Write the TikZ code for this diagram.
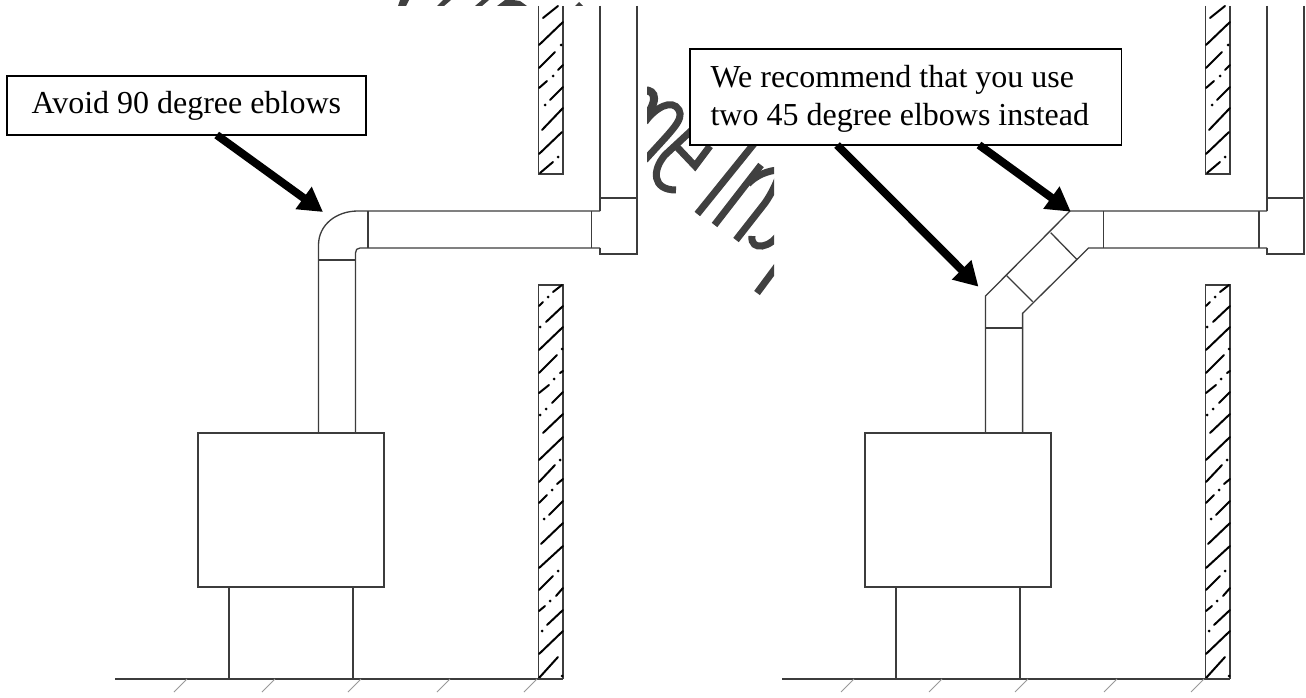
\documentclass[tikz,border=0pt]{standalone}
\usepackage{fontspec}
\setmainfont{Liberation Serif}
\usetikzlibrary{arrows.meta}
\definecolor{lineink}{HTML}{3C3C3C}
\definecolor{wmark}{HTML}{404040}
\tikzset{
  plan/.style={draw=lineink,line width=1.3pt,line join=miter},
  floortick/.style={draw=gray!80,line width=0.9pt},
  hatchline/.style={draw=black,line width=2pt,line cap=round},
  wmstroke/.style={draw=wmark,line width=7pt},
  wmpiece/.style={fill=wmark,draw=none},
  callout/.style={draw=black,line width=1.6pt,fill=white,inner sep=0pt,anchor=north west,font=\fontsize{32}{37.7}\selectfont},
  bigarrow/.style={draw=black,fill=black,line width=8pt,-{Triangle[length=24pt,width=26pt]}}
}
\newcommand{\sideplan}{%
  % walls
  \draw[plan] (538.5,6) -- (538.5,174) -- (563,174) -- (563,6);
  \draw[plan] (538.5,679) -- (538.5,285) -- (563,285) -- (563,679);
  % hatching
  \foreach \xa/\ya/\xb/\yb in {
    543/18/558/6, 539/45/563/22, 539/68/555/52, 558/70/563/65, 539/88/547/81, 550/100/563/87,
    542/130/563/108, 539/154/562/132, 540/173/553/162,
    553/292/562/285, 539/306/543/302, 546/322/563/306, 539/350/563/327, 539/373/557/355,
    560/373/563/371, 539/393/549/385, 552/403/563/392, 543/433/563/414, 539/460/563/437,
    539/482/555/465, 557/484/563/479, 539/503/547/495, 549/515/563/501, 541/544/563/523,
    539/568/563/546, 539/590/553/576, 556/596/563/588, 539/611/545/606, 547/625/563/610,
    539/654/563/631, 539/678/558/657}
    {\draw[hatchline] (\xa,\ya) -- (\xb,\yb);}
  \foreach \xa/\ya in {561/45, 553/76, 545/105, 558/157, 548/297, 540/327, 562/349, 554/379,
    546/409, 540/415, 560/460, 552/490, 544/519, 558/571, 550/601, 542/631, 562/676}
    {\fill[black] (\xa,\ya) circle (1.5pt);}
  % floor
  \draw[plan] (115,679) -- (563,679);
  \foreach \xa in {174,262,348,437,524}
    {\draw[floortick] (\xa,692) -- ++(13,-13);}
  % furnace and stand
  \draw[plan] (198,433) rectangle (384,587);
  \draw[plan] (229,587) -- (229,679);
  \draw[plan] (353,587) -- (353,679);
  % vertical duct at the wall
  \draw[plan] (600,6) -- (600,211);
  \draw[plan] (637,6) -- (637,254) -- (600,254) -- (600,248);
  \draw[plan] (600,198) -- (637,198);
}
\begin{document}
\begin{tikzpicture}[x=1pt,y=-1pt]
\useasboundingbox (0,0) rectangle (1306,698);
\fill[white] (0,0) rectangle (1306,698);
% watermark remnants along the top edge
\fill[wmpiece] (398,6) -- (406,6) -- (409,0) -- (400,0) -- cycle;
\fill[wmpiece] (437,6) -- (444,6) -- (451,0) -- (443,0) -- cycle;
\fill[wmpiece] (475,6) -- (482,6) -- (489,0) -- (482,0) -- cycle;
\fill[wmpiece] (497,6) -- (527,6) -- (520,1) -- (513,0) -- (505,0) -- cycle;
\fill[wmpiece] (575,6) -- (583,6) -- (579,2) -- cycle;
% watermark band
\begin{scope}
  \clip (647,6) rectangle (774,300);
  \draw[wmstroke,line width=8pt] (640,91) .. controls (652,88) and (662,95) .. (645,118);
  \draw[wmstroke] (645,122) .. controls (655,108) and (672,98) .. (679,110) .. controls (684,120) and (672,130) .. (645,160);
  \draw[wmstroke] (692,130) -- (665,155) .. controls (652,170) and (652,190) .. (676,190);
  \draw[wmstroke] (677,147) -- (695,166) -- (710,146);
  \draw[wmstroke] (697.3,214) -- (757,140);
  \draw[wmstroke] (714.5,225) -- (761,165);
  \draw[wmstroke] (736,240) -- (765,203) .. controls (772,193) and (778,180) .. (780,172);
  \draw[wmstroke] (748,184) .. controls (755,176) and (768,170) .. (780,170);
  \draw[wmstroke] (780,232) .. controls (772,248) and (750,252) .. (752,236);
  \draw[wmstroke] (757,293) -- (780,262);
\end{scope}
% both sides
\sideplan
\begin{scope}[shift={(667,0)}]
  \sideplan
\end{scope}
% left duct with 90 degree elbow
\draw[plan] (318.5,433) -- (318.5,245) .. controls (318.5,225) and (336,211) .. (358,211) -- (600,211);
\draw[plan] (355.5,433) -- (355.5,253) .. controls (355.5,250) and (357,248) .. (360,248) -- (600,248);
\draw[plan] (318.5,260) -- (355.5,260);
\draw[plan] (368,211) -- (368,248);
\draw[plan] (591.5,211) -- (591.5,248);
% right duct with two 45 degree elbows
\draw[plan] (985.5,433) -- (985.5,296) -- (1070,211) -- (1267,211);
\draw[plan] (1022.6,433) -- (1022.6,313.3) -- (1088.5,248) -- (1267,248);
\draw[plan] (985.5,328) -- (1022.6,328);
\draw[plan] (1006.7,275.7) -- (1032.7,301.7);
\draw[plan] (1050.7,232.7) -- (1076.7,259.3);
\draw[plan] (1103.7,211) -- (1103.7,248);
\draw[plan] (1259,211) -- (1259,248);
% callouts
\node[callout,minimum width=359pt,minimum height=59pt,align=center] (boxa) at (6,75.5) {\raisebox{-1.5pt}{Avoid 90 degree eblows}};
\node[callout,minimum width=431.5pt,minimum height=96pt,text width=390pt,align=flush left] (boxb) at (689,48) {\strut We recommend that you use\\two 45 degree elbows instead};
% arrows
\coordinate (tipa) at (323,212);
\coordinate (tailb) at (837,145);
\coordinate (tipb) at (978.5,286.7);
\coordinate (tailc) at (979,145);
\coordinate (tipc) at (1070.8,211.7);
\coordinate (taila) at (216.7,135);
\draw[bigarrow] (taila) -- (tipa);
\draw[bigarrow] (tailb) -- (tipb);
\draw[bigarrow] (tailc) -- (tipc);
\end{tikzpicture}
\end{document}
